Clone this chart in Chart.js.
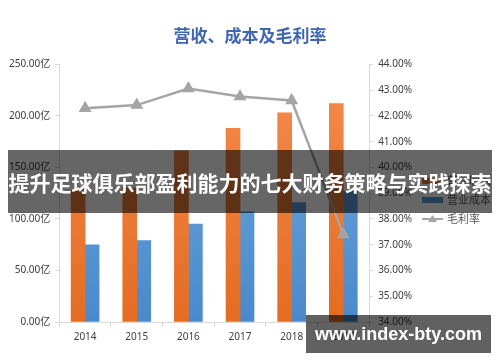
<!DOCTYPE html>
<html>
<head>
<meta charset="utf-8">
<script src="https://cdn.jsdelivr.net/npm/chart.js@4.4.1/dist/chart.umd.min.js"></script>
<style>
  body { margin: 0; background: #fff; }
  #wrap { position: relative; width: 500px; height: 362px; }
  #banner {
    position: absolute; left: 8px; top: 150px; width: 484px; height: 63px;
    background: rgba(0, 0, 0, 0.6); color: #fff;
    font: bold 21px "Noto Sans CJK SC", sans-serif;
    display: flex; align-items: center; justify-content: center; white-space: nowrap;
  }
  #mark {
    position: absolute; left: 306px; top: 315px; width: 185px; height: 38px;
    background: rgba(0, 0, 0, 0.62); color: #fff;
    font: bold 18px "Liberation Sans", sans-serif;
    display: flex; align-items: center; justify-content: center;
  }
</style>
</head>
<body>
<div id="wrap">
  <canvas id="grafico"></canvas>
  <div id="banner">提升足球俱乐部盈利能力的七大财务策略与实践探索</div>
  <div id="mark">www.index-bty.com</div>
</div>
<script>
// Datos
var anios = ['2014', '2015', '2016', '2017', '2018', '2019'];
var ingresos = [128, 130, 166, 188, 203, 212];   // 营业收入 (亿)
var costos = [75, 79, 95, 107, 116, 127];        // 营业成本 (亿)
var margen = [42.3, 42.42, 43.06, 42.75, 42.6, 37.4]; // 毛利率 (%)

var fuenteTexto = '"Noto Sans", "Noto Sans CJK SC", sans-serif';

function degradado(ctx, arriba, abajo) {
    var area = ctx.chart.chartArea;
    if (!area) return abajo;
    var g = ctx.chart.ctx.createLinearGradient(0, area.top, 0, area.bottom);
    g.addColorStop(0, arriba);
    g.addColorStop(1, abajo);
    return g;
}

// Leyenda dibujada a mano, al estilo de Excel
var leyendaPlugin = {
    id: 'leyenda',
    afterDraw: function(chart) {
        var c = chart.ctx;
        var x = 422, items = [
            { t: '营业收入', y: 181, color: '#ed7d31', tipo: 'bar' },
            { t: '营业成本', y: 200, color: '#5b9bd5', tipo: 'bar' },
            { t: '毛利率', y: 219, color: '#a5a5a5', tipo: 'line' }
        ];
        c.save();
        c.font = '11px "Noto Sans CJK SC", sans-serif';
        c.textBaseline = 'middle';
        items.forEach(function(it) {
            if (it.tipo === 'bar') {
                c.fillStyle = it.color;
                c.fillRect(x, it.y - 3, 21, 6);
            } else {
                c.strokeStyle = it.color;
                c.lineWidth = 2;
                c.beginPath(); c.moveTo(x, it.y); c.lineTo(x + 21, it.y); c.stroke();
                c.fillStyle = it.color;
                c.beginPath();
                c.moveTo(x + 10.5, it.y - 4); c.lineTo(x + 15, it.y + 3); c.lineTo(x + 6, it.y + 3);
                c.closePath(); c.fill();
            }
            c.fillStyle = '#595959';
            c.fillText(it.t, x + 25, it.y);
        });
        c.restore();
    }
};

document.addEventListener('DOMContentLoaded', function() {
    var ctx = document.getElementById('grafico').getContext('2d');
    new Chart(ctx, {
        data: {
            labels: anios,
            datasets: [{
                type: 'line',
                label: '毛利率',
                data: margen,
                yAxisID: 'y1',
                borderColor: '#a5a5a5',
                backgroundColor: '#a5a5a5',
                borderWidth: 2.5,
                pointStyle: 'triangle',
                pointRadius: 5,
                pointHoverRadius: 5,
                tension: 0,
                order: 0
            }, {
                type: 'bar',
                label: '营业收入',
                data: ingresos,
                yAxisID: 'y',
                backgroundColor: function(c) { return degradado(c, '#f48c4e', '#e46c22'); },
                barThickness: 14,
                order: 1
            }, {
                type: 'bar',
                label: '营业成本',
                data: costos,
                yAxisID: 'y',
                backgroundColor: function(c) { return degradado(c, '#71a9de', '#4a8acb'); },
                barThickness: 14,
                order: 1
            }]
        },
        options: {
            responsive: true,
            maintainAspectRatio: false,
            animation: false,
            layout: { padding: { left: 4, right: 4, top: 0, bottom: 15 } },
            plugins: {
                legend: { display: false },
                tooltip: { enabled: false },
                title: {
                    display: true,
                    text: '营收、成本及毛利率',
                    color: '#3f67b1',
                    font: { family: '"Noto Sans CJK SC", sans-serif', size: 17, weight: 'bold' },
                    padding: { top: 25, bottom: 19 }
                }
            },
            scales: {
                x: {
                    offset: true,
                    grid: { offset: true, drawOnChartArea: false, drawTicks: true, tickLength: 5, color: '#d9d9d9' },
                    border: { color: '#d9d9d9' },
                    ticks: { color: '#404040', font: { family: fuenteTexto, size: 10 }, padding: 4 }
                },
                y: {
                    min: 0, max: 250,
                    grid: { drawOnChartArea: false, tickLength: 4, color: '#d9d9d9' },
                    border: { color: '#d9d9d9' },
                    ticks: {
                        stepSize: 50, color: '#404040', padding: 5,
                        font: { family: fuenteTexto, size: 10 },
                        callback: function(v) { return v.toFixed(2) + '亿'; }
                    }
                },
                y1: {
                    position: 'right',
                    min: 34, max: 44,
                    grid: { drawOnChartArea: false, tickLength: 4, color: '#d9d9d9' },
                    border: { color: '#d9d9d9' },
                    afterFit: function(scale) { scale.width += 79; },
                    ticks: {
                        stepSize: 1, color: '#404040', padding: 5,
                        font: { family: fuenteTexto, size: 10 },
                        callback: function(v) { return v.toFixed(2) + '%'; }
                    }
                }
            }
        },
        plugins: [leyendaPlugin]
    });
});
</script>
</body>
</html>
